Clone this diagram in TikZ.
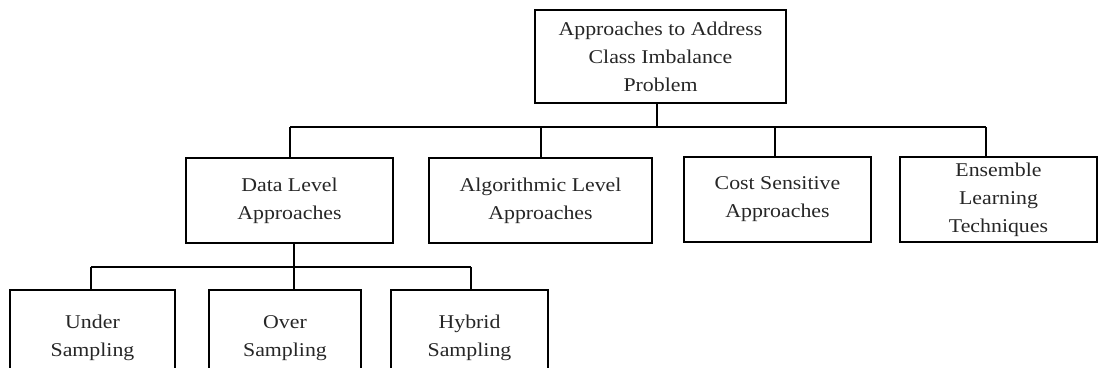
\documentclass[tikz,border=0pt]{standalone}
\usepackage{fontspec}
\setmainfont{Liberation Serif}[FakeStretch=1.12]
\begin{document}
\begin{tikzpicture}[x=1pt,y=-1pt,
  box/.style={draw, line width=1.6pt, align=center, inner sep=0pt,
    font=\fontsize{19.5}{28}\selectfont, text=black!85},
  link/.style={line width=1.6pt}]
\useasboundingbox (0,0) rectangle (1101,367);
\begin{scope}
\clip (0,0) rectangle (1101,367);
% root
\node[box, minimum width=251pt, minimum height=93pt] (root) at (660.5,56.5)
  {Approaches to Address\\Class Imbalance\\Problem};
% second level
\node[box, minimum width=207pt, minimum height=85pt] (data) at (289.5,200.5)
  {Data Level\\Approaches};
\node[box, minimum width=223pt, minimum height=85pt] (algo) at (540.5,200.5)
  {Algorithmic Level\\Approaches};
\node[box, minimum width=187pt, minimum height=85pt] (cost) at (777.5,199.5)
  {Cost Sensitive\\Approaches};
\node[box, minimum width=197pt, minimum height=85pt] (ens) at (998.5,199.5)
  {Ensemble\\Learning\\Techniques};
% third level
\node[box, minimum width=165pt, minimum height=96pt] (under) at (92.5,338)
  {Under\\Sampling};
\node[box, minimum width=152pt, minimum height=96pt] (over) at (285,338)
  {Over\\Sampling};
\node[box, minimum width=157pt, minimum height=96pt] (hyb) at (469.5,338)
  {Hybrid\\Sampling};
% junction points
\coordinate (j0) at (657,127);
\coordinate (j1) at (290,127);
\coordinate (j2) at (541,127);
\coordinate (j3) at (775,127);
\coordinate (j4) at (986,127);
\coordinate (k0) at (294,267);
\coordinate (k1) at (91,267);
\coordinate (k3) at (471,267);
% connectors
\draw[link] (root.south -| j0) -- (j0);
\draw[link] (j1) -- (j4);
\draw[link] (j1) -- (j1 |- data.north);
\draw[link] (j2) -- (j2 |- algo.north);
\draw[link] (j3) -- (j3 |- cost.north);
\draw[link] (j4) -- (j4 |- ens.north);
\draw[link] (data.south -| k0) -- (k0 |- over.north);
\draw[link] (k1) -- (k3);
\draw[link] (k1) -- (k1 |- under.north);
\draw[link] (k3) -- (k3 |- hyb.north);
\end{scope}
\end{tikzpicture}
\end{document}
